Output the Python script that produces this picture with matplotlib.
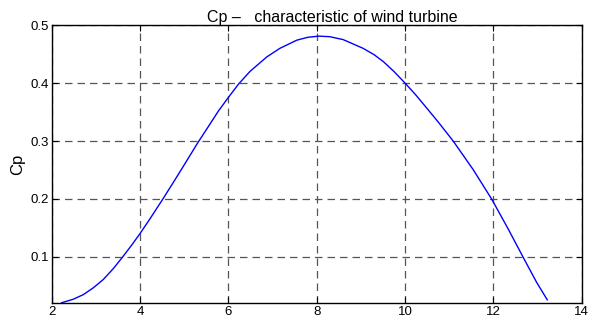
import matplotlib
matplotlib.use('Agg')
import matplotlib.pyplot as plt

# values (tip speed ratio vs Cp)
lam = [2.23, 2.49, 2.72, 2.95, 3.17, 3.40, 3.61, 3.81, 4.0, 4.23, 4.52, 4.76,
       4.98, 5.31, 5.55, 5.77, 6.0, 6.23, 6.49, 6.87, 7.17, 7.55, 7.8, 8.05,
       8.3, 8.6, 9.05, 9.3, 9.51, 9.75, 10.0, 10.25, 10.49, 10.75, 11.09,
       11.54, 11.96, 12.33, 12.67, 12.98, 13.22]
cp = [0.021, 0.027, 0.035, 0.047, 0.061, 0.080, 0.100, 0.120, 0.140, 0.166,
      0.200, 0.229, 0.256, 0.297, 0.325, 0.351, 0.375, 0.398, 0.420, 0.445,
      0.460, 0.474, 0.479, 0.481, 0.480, 0.475, 0.460, 0.449, 0.437, 0.420,
      0.400, 0.379, 0.357, 0.333, 0.300, 0.251, 0.200, 0.149, 0.100, 0.056,
      0.026]
xticks = [2, 4, 6, 8, 10, 12, 14]
yticks = [0.1, 0.2, 0.3, 0.4, 0.5]

plt.rcParams['font.family'] = ['Liberation Sans', 'DejaVu Sans']

fig = plt.figure(figsize=(6.06, 3.22), dpi=100)
ax = fig.add_axes([0.085, 0.058, 0.875, 0.864])
ax.plot(lam, cp, color='#0000ff', linewidth=1.0)

ax.set_xlim(2, 14)
ax.set_ylim(0.02, 0.5)
ax.set_xticks(xticks)
ax.set_yticks(yticks)
ax.set_xticklabels([str(t) for t in xticks])
ax.set_yticklabels(['0.1', '0.2', '0.3', '0.4', '0.5'])
ax.tick_params(direction='in', length=4, width=0.8, labelsize=9.5, pad=2,
               top=True, right=True)
ax.grid(True, linestyle=(0, (6, 4)), color='#555555', linewidth=0.9)
for s in ax.spines.values():
    s.set_linewidth(1.0)

ax.set_ylabel('Cp', fontsize=12, labelpad=4)
ax.set_title('Cp \u2013   characteristic of wind turbine', fontsize=11.5, pad=2,
             x=0.53)

fig.savefig('out.png', dpi=100)
